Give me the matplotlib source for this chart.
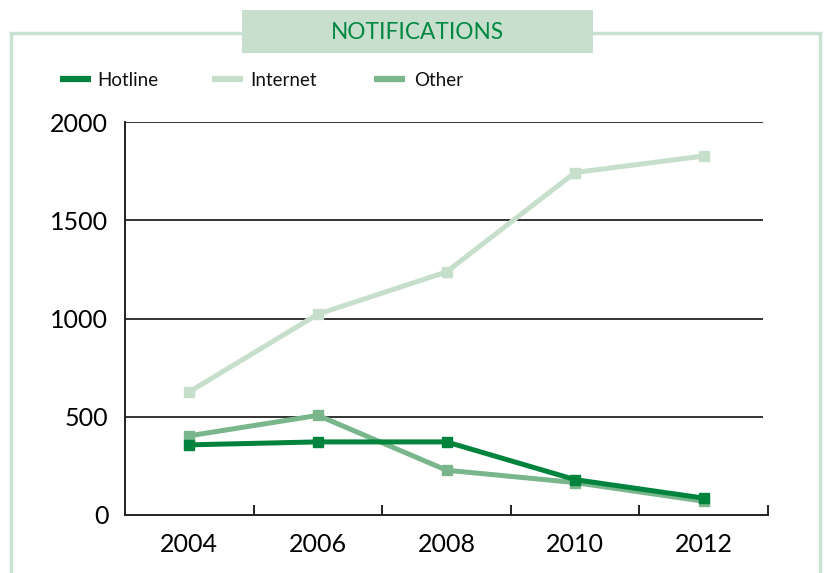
import matplotlib
matplotlib.use("Agg")
import matplotlib.pyplot as plt
from matplotlib.patches import Rectangle
from matplotlib.lines import Line2D

years = ["2004", "2006", "2008", "2010", "2012"]
hotline = [357, 372, 372, 180, 86]
internet = [627, 1022, 1237, 1743, 1827]
other = [403, 507, 228, 165, 70]
yticks = [0, 500, 1000, 1500, 2000]

c_hot = "#00843d"
c_int = "#c6dfcb"
c_oth = "#79b68b"
frame_c = "#c9e1d0"

W, H = 825, 573
fig = plt.figure(figsize=(W / 100, H / 100), dpi=100)
plt.rcParams["font.family"] = ["Lato", "DejaVu Sans"]

def fx(px):
    return px / W

def fy(py):
    return 1 - py / H

# outer frame
fig.add_artist(Rectangle((fx(11), fy(600)), fx(809), fy(33) - fy(600),
                         transform=fig.transFigure, fill=False,
                         edgecolor=frame_c, linewidth=2.5, zorder=0))
# title box
fig.add_artist(Rectangle((fx(242), fy(53)), fx(593 - 242), fy(10) - fy(53),
                         transform=fig.transFigure, facecolor="#c8dfce",
                         edgecolor="none", zorder=1))
fig.text(fx(417), fy(32.5), "NOTIFICATIONS", color="#00883f", fontsize=16.3,
         ha="center", va="center", zorder=2)

# legend
for x0, tx, col, lab in [(60, 97, c_hot, "Hotline"), (212, 250, c_int, "Internet"),
                         (374, 414, c_oth, "Other")]:
    fig.add_artist(Line2D([fx(x0), fx(x0 + 31)], [fy(79), fy(79)],
                          transform=fig.transFigure, color=col, linewidth=4.5,
                          solid_capstyle="butt"))
    fig.text(fx(tx), fy(80.5), lab, fontsize=13.5, ha="left", va="center",
             color="#111111")

ax = fig.add_axes([fx(125), fy(515), fx(768 - 125), fy(122) - fy(515)])
xs = list(range(len(years)))
for vals, col, z in [(internet, c_int, 3), (other, c_oth, 4), (hotline, c_hot, 5)]:
    ax.plot(xs, vals, color=col, linewidth=3.6, marker="s", markersize=7.5,
            zorder=z, solid_joinstyle="miter")

ax.set_xlim(-0.5, 4.5)
ax.set_ylim(0, 2000)
for y in yticks[1:]:
    ax.axhline(y, xmin=0, xmax=(762 - 125) / (768 - 125), color="#333333",
               linewidth=1.4, zorder=1)

ax.set_xticks(xs)
ax.set_xticklabels(years)
ax.set_xticks([0.5, 1.5, 2.5, 3.5, 4.5], minor=True)
ax.tick_params(axis="x", which="major", length=0, pad=13, labelsize=18)
ax.tick_params(axis="x", which="minor", direction="in", length=7, width=1.4,
               color="#222222")
ax.set_yticks(yticks)
ax.tick_params(axis="y", length=0, pad=12, labelsize=18)
for s in ["top", "right"]:
    ax.spines[s].set_visible(False)
for s in ["left", "bottom"]:
    ax.spines[s].set_linewidth(1.4)
    ax.spines[s].set_color("#222222")
ax.patch.set_alpha(0)

fig.savefig("out.png", dpi=100)
